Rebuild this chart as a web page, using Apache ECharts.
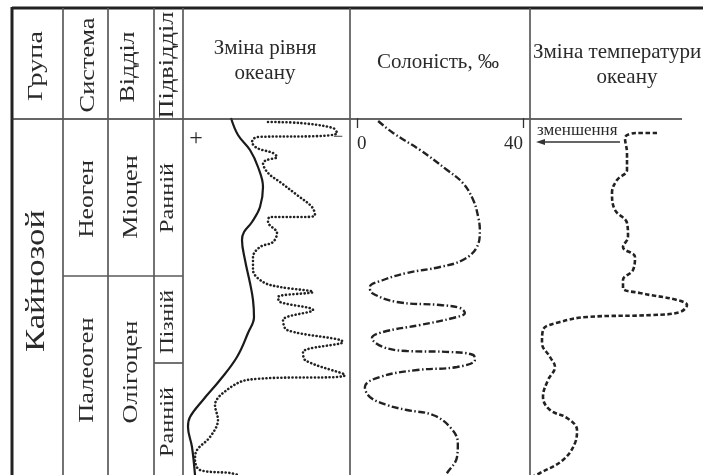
<!DOCTYPE html>
<html><head><meta charset="utf-8">
<script src="https://cdn.jsdelivr.net/npm/echarts@6/dist/echarts.min.js"></script>
<style>html,body{margin:0;padding:0;background:#fff}#c{width:703px;height:475px}</style>
</head><body><div id="c"></div>
<script>
// Time/depth axis: 0 = top of body, 357 = bottom (arbitrary units)
// Sea level change (arbitrary units across column, 0..167)
const seaLevelSolid = [[48,0],[55,17],[67,32],[75,49],[80,69],[77,89],[69,104],[61,114],[59,122],[62,142],[67,165],[70,182],[71,199],[65,215],[54,239],[37,262],[20,282],[7,299],[5,309],[9,329],[12,357]];
const seaLevelDotted = [[85,4],[117,5],[150,10],[154,15],[137,18],[74,19],[69,24],[74,30],[90,35],[94,39],[84,42],[80,45],[85,55],[97,64],[114,77],[129,89],[132,97],[122,99],[87,99],[85,104],[94,115],[90,124],[77,129],[70,139],[70,152],[80,164],[97,169],[130,174],[95,179],[97,184],[130,192],[100,202],[104,212],[160,224],[120,234],[122,242],[162,257],[64,262],[40,275],[32,287],[35,302],[27,319],[14,332],[12,342],[17,352],[47,355],[55,357]];
// Salinity, ‰
const salinity = [[5.1,3],[8.7,15],[15.2,32],[21.7,52],[25.5,65],[28.0,82],[29.2,99],[29.6,112],[28.9,129],[25.5,142],[20.0,149],[12.0,155],[6.3,162],[3.1,169],[3.6,175],[9.6,184],[20.0,187],[24.8,190],[26.0,195],[23.1,200],[15.2,207],[6.3,214],[3.6,220],[6.3,229],[12.0,233],[22.4,234],[28.0,237],[28.4,242],[24.1,249],[14.5,252],[5.5,259],[1.9,269],[3.1,279],[7.2,287],[12.0,292],[18.3,297],[22.4,309],[24.3,325],[24.1,339],[21.7,355],[21.2,357]];
// Ocean temperature change (arbitrary units across column, 0..173)
const temperature = [[127,15],[110,15],[100,16],[95,20],[97,35],[97,52],[87,62],[82,75],[85,92],[97,105],[98,119],[93,129],[105,139],[103,152],[93,162],[93,170],[110,175],[147,182],[157,187],[150,194],[123,197],[57,199],[30,204],[13,212],[12,225],[20,239],[25,249],[18,262],[13,279],[20,292],[37,300],[47,312],[45,325],[33,342],[10,355],[2,359]];
const salinityTicks = [0, 40];

const headers = {group:'Група', system:'Система', dept:'Відділ', subdept:'Підвідділ'};
const units = {era:'Кайнозой', neo:'Неоген', paleo:'Палеоген', mio:'Міоцен', oligo:'Олігоцен', early:'Ранній', late:'Пізній'};

const chart = echarts.init(document.getElementById('c'), null, {renderer:'canvas'});
const FONT = '"Liberation Serif","DejaVu Serif",serif';
const TXT = '#2a2a2a';
const LC = '#5a5a5a';

function ln(x1,y1,x2,y2,w,c){return {type:'line',silent:true,z:10,shape:{x1,y1,x2,y2},style:{stroke:c||LC,lineWidth:w||1.7}};}
function vt(x,y,t,fs,sc){return {type:'text',silent:true,z:11,x,y,rotation:Math.PI/2,scaleX:sc||1.2,scaleY:1,style:{text:t,font:fs+'px '+FONT,fill:TXT,align:'center',verticalAlign:'middle'}};}
function ht(x,y,t,fs,al){return {type:'text',silent:true,z:11,x,y,style:{text:t,font:fs+'px '+FONT,fill:TXT,align:al||'center',verticalAlign:'middle'}};}

const graphic = [
  ln(12,8,703,8,3,'#222'),
  ln(12,7,12,475,3,'#222'),
  ln(12,119,682,119,1.7,'#333'),
  ln(63,8,63,475), ln(108,8,108,475), ln(154,8,154,475), ln(183,8,183,475),
  ln(350,8,350,475), ln(530,8,530,475),
  ln(63,276,183,276), ln(154,363,183,363),
  vt(36,66,headers.group,22,1.28), vt(88,65,headers.system,22,1.2), vt(128,67,headers.dept,22,1.18), vt(168,65,headers.subdept,20,1.32),
  vt(37,281,units.era,28,1.24),
  vt(87,199,units.neo,22,1.16), vt(87,370,units.paleo,22,1.2),
  vt(131,197,units.mio,22,1.19), vt(131,372,units.oligo,22,1.2),
  vt(168,198,units.early,18,1.35), vt(168,322,units.late,18,1.3), vt(168,422,units.early,18,1.35),
  ht(265,48,'Зміна рівня',21), ht(265,73,'океану',21),
  ht(438,62,'Солоність, ‰',21),
  ht(533,52,'Зміна температури',21,'left'), ht(627,77,'океану',21),
  ht(196,139,'+',24), ht(338,137,'−',18),
  ht(537,131,'зменшення',17,'left'),
  ln(541,142,620,142,1.3,'#333'),
  {type:'polygon',silent:true,z:11,shape:{points:[[536,142],[545,139],[545,145]]},style:{fill:'#333'}}
];

const yAx = (i)=>({type:'value',gridIndex:i,min:0,max:357,inverse:true,show:false});

const option = {
  animation:false,
  backgroundColor:'#fff',
  grid:[
    {left:183,top:118,width:167,height:357},
    {left:357,top:118,width:166,height:357},
    {left:530,top:118,width:173,height:357}
  ],
  xAxis:[
    {type:'value',gridIndex:0,min:0,max:167,show:false},
    {type:'value',gridIndex:1,min:0,max:40,interval:40,position:'top',
      axisLine:{show:false},splitLine:{show:false},
      axisTick:{show:true,inside:true,length:10,lineStyle:{color:'#333',width:1.3}},
      axisLabel:{show:true,inside:true,margin:17,fontFamily:FONT,fontSize:19,color:TXT,alignMinLabel:'left',alignMaxLabel:'right',formatter:v=>salinityTicks.indexOf(v)>=0?String(v):''}},
    {type:'value',gridIndex:2,min:0,max:173,show:false}
  ],
  yAxis:[yAx(0),yAx(1),yAx(2)],
  series:[
    {type:'line',xAxisIndex:0,yAxisIndex:0,data:seaLevelSolid,smooth:0.4,showSymbol:false,lineStyle:{color:'#1a1a1a',width:2.2}},
    {type:'line',xAxisIndex:0,yAxisIndex:0,data:seaLevelDotted,smooth:0.35,showSymbol:false,lineStyle:{color:'#222',width:2.6,type:[0.1,3.6],cap:'round'}},
    {type:'line',xAxisIndex:1,yAxisIndex:1,data:salinity,smooth:0.4,showSymbol:false,lineStyle:{color:'#222',width:2.4,type:[7,2.5,1.5,2.5]}},
    {type:'line',xAxisIndex:2,yAxisIndex:2,data:temperature,smooth:0.4,showSymbol:false,lineStyle:{color:'#222',width:2.6,type:[4.5,2.5]}}
  ],
  graphic:graphic
};
chart.setOption(option);
</script></body></html>
